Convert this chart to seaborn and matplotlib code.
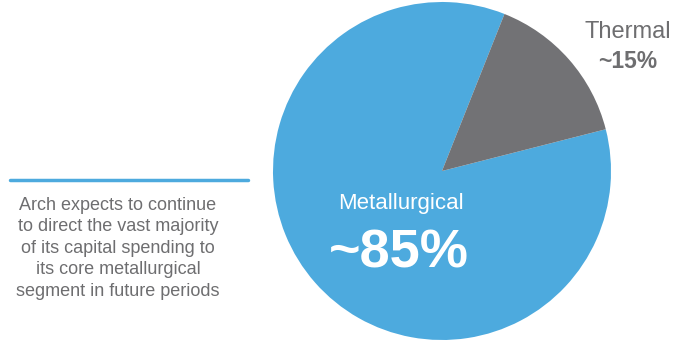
import matplotlib
matplotlib.use("Agg")
import matplotlib.pyplot as plt
import seaborn as sns

# Capital spending split by segment
segments = ["Metallurgical", "Thermal"]
shares = [85, 15]
share_labels = ["~85%", "~15%"]
note_lines = [
    "Arch expects to continue",
    "to direct the vast majority",
    "of its capital spending to",
    "its core metallurgical",
    "segment in future periods",
]

sns.set_theme(style="white")
plt.rcParams["font.family"] = ["Liberation Sans", "DejaVu Sans"]

blue = "#4DAADE"
grey = "#727275"
text_grey = "#6E6E70"

W, H = 688, 340
fig = plt.figure(figsize=(W / 100, H / 100), dpi=100)
fig.patch.set_facecolor("white")

cx, cy, r = 442, 171, 169
ax = fig.add_axes([(cx - r) / W, (H - cy - r) / H, 2 * r / W, 2 * r / H])
ax.pie(shares, colors=[blue, grey], startangle=68.3, radius=1.0,
       wedgeprops=dict(linewidth=0))
ax.set_xlim(-1, 1)
ax.set_ylim(-1, 1)
ax.set_aspect("equal")
ax.axis("off")


def px(x, y):
    return x / W, 1 - y / H


# segment labels
fig.text(*px(401, 204), segments[0], color="white", fontsize=16,
         ha="center", va="center")
fig.text(*px(399, 253), share_labels[0], color="white", fontsize=39,
         fontweight="bold", ha="center", va="center")
fig.text(*px(628, 32), segments[1], color=text_grey, fontsize=17,
         ha="center", va="center")
fig.text(*px(628, 61), share_labels[1], color=text_grey, fontsize=16.5,
         fontweight="bold", ha="center", va="center")

# side note with rule above it
fig.add_artist(plt.Line2D([10 / W, 248 / W], [1 - 180 / H, 1 - 180 / H],
                          color=blue, linewidth=2.5, transform=fig.transFigure))
for i, line in enumerate(note_lines):
    fig.text(*px(118, 205 + 21.6 * i), line, color=text_grey, fontsize=13,
             ha="center", va="center")

fig.savefig("out.png", dpi=100, facecolor="white")
